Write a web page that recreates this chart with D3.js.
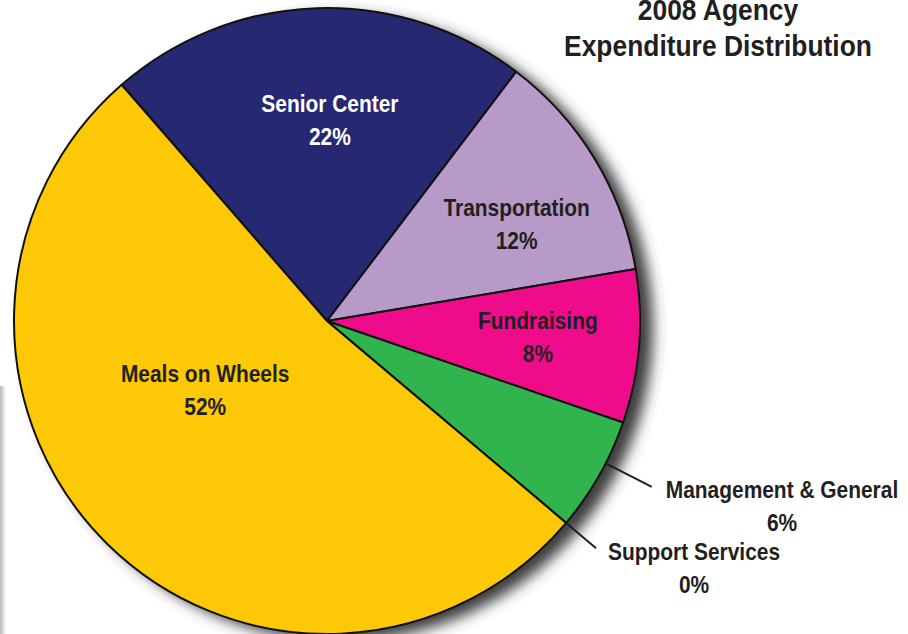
<!DOCTYPE html>
<html>
<head>
<meta charset="utf-8">
<script src="https://cdn.jsdelivr.net/npm/d3@7"></script>
<style>
  html, body { margin: 0; padding: 0; background: #fff; }
  svg { display: block; }
  text { font-family: 'Liberation Sans Narrow', 'Arial Narrow', 'Liberation Sans', Arial, sans-serif; font-weight: bold; }
</style>
</head>
<body>
<svg id="chart"></svg>
<script>
// Slices in clockwise order, starting at the Senior Center / Meals boundary
const categories = ['Senior Center', 'Transportation', 'Fundraising', 'Management & General', 'Support Services', 'Meals on Wheels'];
const shares = [21.7, 12.0, 7.9, 5.9, 0, 52.4];
const colors = ['#262872', '#b79ac8', '#ee0c8a', '#31b44d', '#fdc806', '#fdc806'];
const titleLines = ['2008 Agency', 'Expenditure Distribution'];

const width = 908, height = 634;
const cx = 327, cy = 321, radius = 313;
const startDeg = -41;
const squeeze = 0.91;   // the original type is a narrow face

const svg = d3.select('#chart')
  .attr('width', width)
  .attr('height', height)
  .attr('viewBox', `0 0 ${width} ${height}`);

const defs = svg.append('defs');
const shadow = defs.append('filter')
  .attr('id', 'shadow')
  .attr('x', '-20%').attr('y', '-20%')
  .attr('width', '140%').attr('height', '140%');
shadow.append('feGaussianBlur').attr('in', 'SourceAlpha').attr('stdDeviation', 7).attr('result', 'blur');
shadow.append('feOffset').attr('in', 'blur').attr('dx', 13).attr('dy', 7).attr('result', 'off');
shadow.append('feFlood').attr('flood-color', '#333').attr('flood-opacity', 0.95);
shadow.append('feComposite').attr('in2', 'off').attr('operator', 'in');

const edge = defs.append('linearGradient').attr('id', 'edge').attr('x1', 0).attr('x2', 1);
edge.append('stop').attr('offset', 0).attr('stop-color', '#b8b8b8');
edge.append('stop').attr('offset', 1).attr('stop-color', '#fff');

// faint gray edge at the left border
svg.append('rect')
  .attr('x', 0).attr('y', 386)
  .attr('width', 6).attr('height', height - 386)
  .attr('fill', 'url(#edge)');

const g = svg.append('g').attr('transform', `translate(${cx},${cy})`);

const pie = d3.pie()
  .sort(null)
  .value(d => d.value)
  .startAngle(startDeg * Math.PI / 180)
  .endAngle((startDeg + 360) * Math.PI / 180);

const data = categories.map((name, i) => ({ name, value: shares[i], color: colors[i] }));
const arcs = pie(data);

const arc = d3.arc().innerRadius(0).outerRadius(radius);

// drop shadow behind the pie
g.append('circle')
  .attr('r', radius)
  .attr('fill', '#000')
  .attr('filter', 'url(#shadow)');

g.selectAll('path.slice')
  .data(arcs)
  .join('path')
  .attr('class', 'slice')
  .attr('d', arc)
  .attr('fill', d => d.data.color)
  .attr('stroke', '#111')
  .attr('stroke-width', 2)
  .attr('stroke-linejoin', 'round');

const pct = v => `${Math.round(v)}%`;
const polar = (ang, r) => [r * Math.sin(ang), -r * Math.cos(ang)];
const mid = d => (d.startAngle + d.endAngle) / 2;
const fontSize = 23;

// text drawn narrower than the installed face
function label(parent, x, y, str, opts = {}) {
  const t = parent.append('g')
    .attr('transform', `translate(${x},${y}) scale(${squeeze},1)`)
    .append('text')
    .attr('text-anchor', opts.anchor || 'middle')
    .attr('font-size', opts.size || fontSize)
    .attr('fill', opts.fill || '#231f20')
    .text(str);
  return t.node().getComputedTextLength() * squeeze;
}

// labels inside the slices: angle shift (deg) and distance from centre
const inside = {
  'Senior Center': { da: 2.7, r: 209, fill: '#fff' },
  'Transportation': { da: 2.1, r: 217 },
  'Fundraising': { da: -2.6, r: 211 },
  'Meals on Wheels': { da: 19, r: 136 }
};

arcs.filter(d => inside[d.data.name]).forEach(d => {
  const lay = inside[d.data.name];
  const [x, y] = polar(mid(d) + lay.da * Math.PI / 180, lay.r);
  label(g, x, y, d.data.name, { fill: lay.fill });
  label(g, x, y + 33, pct(d.data.value), { fill: lay.fill });
});

// small slices get leader lines and outside labels
const outside = {
  'Management & General': { da: -2.5, out: 1.165, dx: 14, dy: 11 },
  'Support Services': { da: 0, out: 1.125, dx: 12, dy: 12 }
};
arcs.filter(d => outside[d.data.name]).forEach(d => {
  const lay = outside[d.data.name];
  const a = mid(d) + lay.da * Math.PI / 180;
  const [x1, y1] = polar(a, radius);
  const [x2, y2] = polar(a, radius * lay.out);
  g.append('line')
    .attr('x1', x1).attr('y1', y1)
    .attr('x2', x2).attr('y2', y2)
    .attr('stroke', '#231f20')
    .attr('stroke-width', 2);

  const w = label(g, x2 + lay.dx, y2 + lay.dy, d.data.name, { anchor: 'start' });
  label(g, x2 + lay.dx + w / 2, y2 + lay.dy + 33, pct(d.data.value));
});

// title
titleLines.forEach((line, i) => label(svg, 718, 20 + i * 36, line, { size: 29 }));
</script>
</body>
</html>
